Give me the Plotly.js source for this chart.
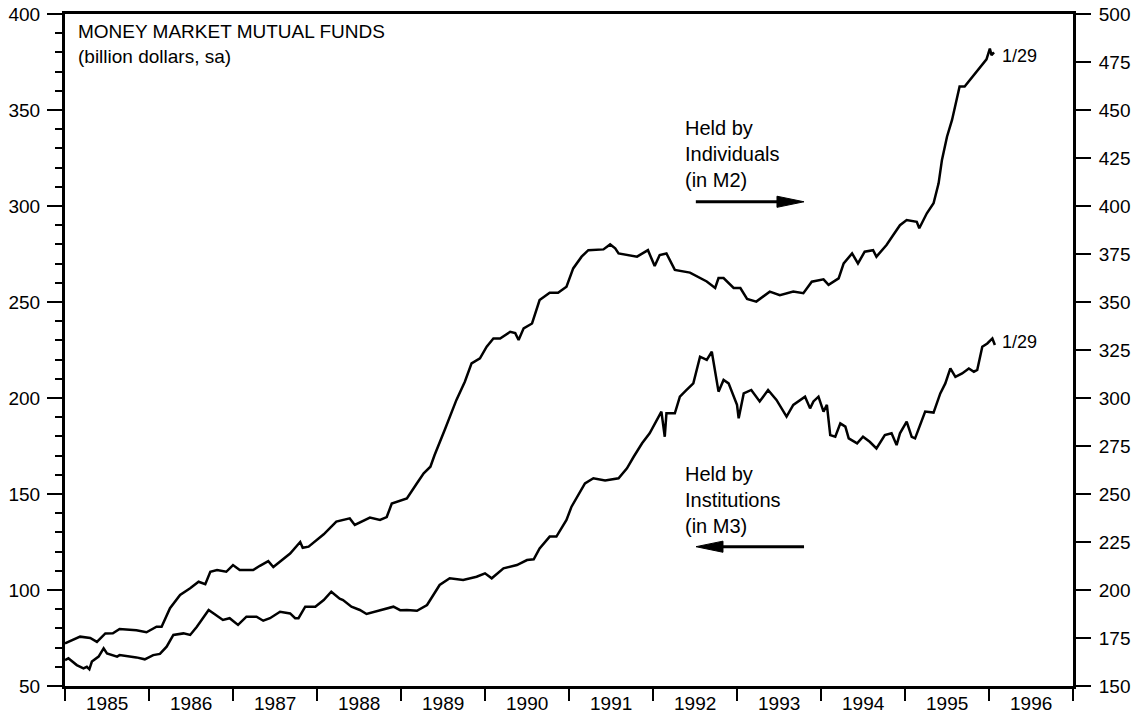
<!DOCTYPE html>
<html>
<head>
<meta charset="utf-8">
<script src="https://cdn.plot.ly/plotly-3.0.1.min.js"></script>
<style>
  html, body { margin: 0; padding: 0; background: #fff; }
  #chart { width: 1131px; height: 717px; }
</style>
</head>
<body>
<div id="chart"></div>
<script>
// Year tick labels (centred within each year)
const yearLabels = ['1985','1986','1987','1988','1989','1990','1991','1992','1993','1994','1995','1996'];
const yearBoundaries = [1985,1986,1987,1988,1989,1990,1991,1992,1993,1994,1995,1996,1997];

// Held by Individuals (in M2) — right axis, billion dollars
const indYears = [1985.00,1985.18,1985.30,1985.38,1985.48,1985.57,1985.65,1985.85,1985.97,1986.09,1986.15,1986.25,1986.37,1986.49,1986.59,1986.67,1986.73,1986.81,1986.92,1987.00,1987.08,1987.24,1987.32,1987.42,1987.48,1987.68,1987.80,1987.83,1987.90,1988.08,1988.23,1988.39,1988.45,1988.63,1988.75,1988.83,1988.89,1989.07,1989.19,1989.27,1989.35,1989.40,1989.52,1989.66,1989.76,1989.84,1989.94,1990.02,1990.10,1990.18,1990.30,1990.36,1990.40,1990.46,1990.56,1990.65,1990.77,1990.87,1990.97,1991.05,1991.15,1991.23,1991.41,1991.49,1991.55,1991.59,1991.81,1991.94,1992.02,1992.08,1992.16,1992.26,1992.44,1992.64,1992.74,1992.78,1992.84,1992.96,1993.04,1993.12,1993.23,1993.39,1993.51,1993.67,1993.79,1993.89,1994.03,1994.09,1994.21,1994.27,1994.37,1994.44,1994.52,1994.62,1994.66,1994.78,1994.86,1994.94,1995.02,1995.14,1995.17,1995.22,1995.26,1995.34,1995.40,1995.44,1995.50,1995.56,1995.60,1995.65,1995.71,1995.79,1995.89,1995.97,1996.01,1996.03,1996.06];
const indValues = [172.2,175.7,175.0,173.0,177.4,177.5,179.7,179.0,178.0,180.9,180.9,190.5,197.4,200.9,204.3,203.0,209.5,210.4,209.5,213.0,210.4,210.4,212.6,215.0,212.0,219.0,225.0,222.0,222.6,229.0,235.6,237.3,233.9,237.7,236.5,238.0,245.0,247.7,255.6,260.8,264.2,270.3,283.3,299.0,308.5,318.0,320.7,326.7,331.0,331.0,334.5,333.8,330.2,336.3,338.8,351.0,354.8,354.8,358.0,367.5,373.6,377.0,377.4,380.0,378.0,375.3,373.6,377.0,368.7,374.5,375.3,366.7,365.3,360.7,357.3,362.5,362.5,357.3,357.3,351.6,350.2,355.4,353.6,355.4,354.6,360.6,361.8,358.9,362.3,370.1,375.3,370.1,376.2,377.0,373.6,379.7,384.9,390.0,392.7,391.8,388.4,392.7,396.2,401.4,411.8,424.0,436.1,444.8,452.6,462.2,462.2,466.5,471.7,476.4,482.0,478.6,480.0];

// Held by Institutions (in M3) — left axis, billion dollars
const instYears = [1985.00,1985.04,1985.14,1985.22,1985.26,1985.29,1985.32,1985.40,1985.46,1985.50,1985.62,1985.65,1985.85,1985.95,1986.05,1986.13,1986.21,1986.29,1986.41,1986.49,1986.57,1986.61,1986.71,1986.77,1986.88,1986.96,1987.06,1987.16,1987.28,1987.36,1987.44,1987.56,1987.68,1987.74,1987.78,1987.86,1987.98,1988.08,1988.17,1988.27,1988.31,1988.41,1988.51,1988.59,1988.75,1988.91,1988.99,1989.07,1989.19,1989.31,1989.46,1989.58,1989.74,1989.90,1990.00,1990.08,1990.22,1990.38,1990.50,1990.58,1990.65,1990.77,1990.85,1990.97,1991.03,1991.11,1991.19,1991.29,1991.43,1991.59,1991.69,1991.77,1991.87,1991.96,1992.04,1992.10,1992.14,1992.16,1992.26,1992.32,1992.40,1992.48,1992.56,1992.64,1992.70,1992.78,1992.84,1992.90,1993.00,1993.02,1993.08,1993.17,1993.27,1993.37,1993.47,1993.59,1993.67,1993.81,1993.87,1993.91,1993.97,1994.03,1994.07,1994.11,1994.17,1994.23,1994.29,1994.33,1994.43,1994.50,1994.58,1994.66,1994.76,1994.84,1994.90,1994.94,1995.02,1995.08,1995.12,1995.20,1995.24,1995.34,1995.42,1995.48,1995.54,1995.60,1995.68,1995.76,1995.82,1995.86,1995.92,1995.98,1996.04,1996.07];
const instValues = [63.5,64.4,60.9,59.2,60.0,58.7,62.7,65.3,69.6,67.0,65.3,66.1,64.9,63.9,66.1,66.7,70.5,76.6,77.4,76.6,80.9,83.5,89.6,87.8,84.4,85.3,81.8,86.1,86.1,84.0,85.3,88.7,87.8,85.3,85.3,91.3,91.3,94.8,99.1,95.5,94.8,91.3,89.6,87.5,89.6,91.3,89.5,89.6,89.2,92.2,102.6,106.1,105.2,106.9,108.7,106.1,111.3,113.0,115.6,116.0,121.7,127.8,127.8,136.5,143.4,149.5,155.5,158.2,157.0,158.2,163.4,169.4,176.4,181.6,188.5,192.9,179.8,192.0,192.0,200.7,204.2,207.6,221.5,219.8,224.1,203.3,209.4,207.6,196.4,189.4,202.4,204.2,198.2,204.2,199.0,190.3,196.4,200.7,194.6,198.2,200.7,192.9,196.4,180.7,179.8,186.8,185.1,179.0,176.4,179.8,177.2,173.7,180.7,181.6,175.5,181.6,187.7,179.8,179.0,188.5,192.9,192.4,202.4,207.6,215.4,211.0,212.8,215.4,213.7,214.6,226.7,228.4,231.0,227.6];

const FONT = 'Liberation Sans, Arial, Helvetica, sans-serif';

const traces = [
  { x: instYears, y: instValues, type: 'scatter', mode: 'lines', yaxis: 'y',
    line: { color: '#000', width: 2.5 }, hoverinfo: 'skip', showlegend: false },
  { x: indYears, y: indValues, type: 'scatter', mode: 'lines', yaxis: 'y2',
    line: { color: '#000', width: 2.5 }, hoverinfo: 'skip', showlegend: false }
];

const annotations = [];
yearLabels.forEach((lab, i) => {
  annotations.push({ text: lab, x: yearBoundaries[i] + 0.5, xref: 'x', y: 0, yref: 'paper',
    yanchor: 'middle', xanchor: 'center', yshift: -17, showarrow: false,
    font: { family: FONT, size: 19, color: '#000' } });
});
annotations.push({ text: 'MONEY MARKET MUTUAL FUNDS<br>(billion dollars, sa)', x: 0, xref: 'paper',
  y: 1, yref: 'paper', xanchor: 'left', yanchor: 'top', align: 'left', xshift: 11, yshift: -5,
  showarrow: false, font: { family: FONT, size: 19, color: '#000' } });
annotations.push({ text: 'Held by<br>Individuals<br>(in M2)', x: 1992.357, xref: 'x', y: 327, yref: 'y',
  xanchor: 'left', yanchor: 'middle', align: 'left', showarrow: false,
  font: { family: FONT, size: 20, color: '#000' } });
annotations.push({ text: 'Held by<br>Institutions<br>(in M3)', x: 1992.357, xref: 'x', y: 147, yref: 'y',
  xanchor: 'left', yanchor: 'middle', align: 'left', showarrow: false,
  font: { family: FONT, size: 20, color: '#000' } });
annotations.push({ text: '1/29', x: 1996.13, xref: 'x', y: 478, yref: 'y2',
  xanchor: 'left', yanchor: 'middle', showarrow: false, font: { family: FONT, size: 18, color: '#000' } });
annotations.push({ text: '1/29', x: 1996.13, xref: 'x', y: 229, yref: 'y',
  xanchor: 'left', yanchor: 'middle', showarrow: false, font: { family: FONT, size: 18, color: '#000' } });

const shapes = [
  { type: 'line', xref: 'x', yref: 'y', x0: 1992.51, x1: 1993.50, y0: 302.2, y1: 302.2, line: { color: '#000', width: 3 } },
  { type: 'path', xref: 'x', yref: 'y', path: 'M 1993.476,305.1 L 1993.798,302.2 L 1993.476,299.3 Z', fillcolor: '#000', line: { color: '#000', width: 1 } },
  { type: 'line', xref: 'x', yref: 'y', x0: 1992.80, x1: 1993.798, y0: 122.55, y1: 122.55, line: { color: '#000', width: 3 } },
  { type: 'path', xref: 'x', yref: 'y', path: 'M 1992.833,125.45 L 1992.512,122.55 L 1992.833,119.65 Z', fillcolor: '#000', line: { color: '#000', width: 1 } }
];

const layout = {
  width: 1131, height: 717,
  margin: { l: 65, r: 58, t: 14, b: 31, pad: 0 },
  paper_bgcolor: '#fff', plot_bgcolor: '#fff',
  font: { family: FONT, size: 19, color: '#000' },
  showlegend: false,
  xaxis: { range: [1985, 1997], tickmode: 'array', tickvals: yearBoundaries, ticks: 'outside',
    ticklen: 12, tickwidth: 2, tickcolor: '#000', showticklabels: false, showgrid: false, zeroline: false,
    showline: true, linewidth: 3, linecolor: '#000', mirror: true, fixedrange: true },
  yaxis: { range: [50, 400], tick0: 50, dtick: 50, ticks: 'outside', ticklen: 15, tickwidth: 2,
    tickcolor: '#000', showgrid: false, zeroline: false, showline: true, linewidth: 3, linecolor: '#000',
    tickfont: { family: FONT, size: 19, color: '#000' }, ticklabelstandoff: 3,
    minor: { dtick: 10, tick0: 50, ticks: 'outside', ticklen: 7, tickwidth: 2, tickcolor: '#000', showgrid: false },
    fixedrange: true },
  yaxis2: { range: [150, 500], tick0: 150, dtick: 25, overlaying: 'y', side: 'right', ticks: 'outside',
    ticklen: 15, tickwidth: 2, tickcolor: '#000', showgrid: false, zeroline: false, showline: true,
    linewidth: 3, linecolor: '#000', tickfont: { family: FONT, size: 19, color: '#000' }, ticklabelstandoff: 4,
    fixedrange: true },
  annotations: annotations,
  shapes: shapes
};

Plotly.newPlot('chart', traces, layout, { staticPlot: true, displayModeBar: false });
</script>
</body>
</html>
